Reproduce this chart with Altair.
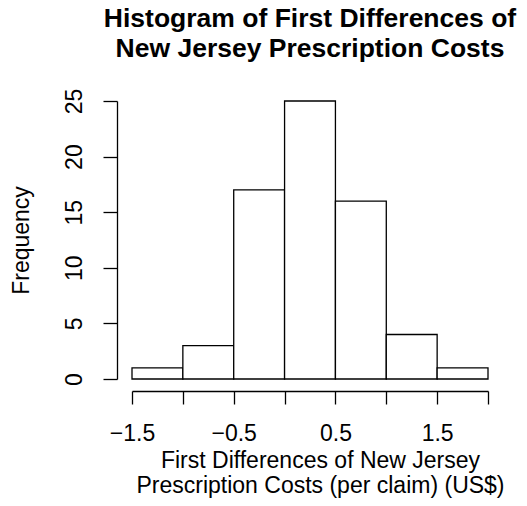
import altair as alt
import pandas as pd

# Histogram bins (break points) and counts
bin_starts = [-1.5, -1.0, -0.5, 0.0, 0.5, 1.0, 1.5]
bin_ends = [-1.0, -0.5, 0.0, 0.5, 1.0, 1.5, 2.0]
counts = [1, 3, 17, 25, 16, 4, 1]

x_ticks = [-1.5, -1.0, -0.5, 0.0, 0.5, 1.0, 1.5, 2.0]
y_ticks = [0, 5, 10, 15, 20, 25]

df = pd.DataFrame({"start": bin_starts, "end": bin_ends, "count": counts})

FONT = "Liberation Sans"

bars = alt.Chart(df).mark_bar(
    fill="white", stroke="black", strokeWidth=1.3
).encode(
    x=alt.X(
        "start:Q",
        scale=alt.Scale(domain=[-1.5, 2.0], nice=False, zero=False),
        axis=alt.Axis(
            values=x_ticks,
            labelExpr="abs(datum.value * 2) % 2 == 1 ? replace(format(datum.value, '.1f'), '-', '\u2212') : ''",
            offset=12,
            grid=False,
            domainColor="black",
            domainWidth=1.3,
            tickColor="black",
            tickWidth=1.3,
            tickSize=13,
            labelFont=FONT,
            labelFontSize=23,
            labelColor="black",
            labelPadding=18,
            labelFlush=False,
            labelOverlap=False,
            title=["First Differences of New Jersey", "Prescription Costs (per claim) (US$)"],
            titleFont=FONT,
            titleFontSize=23,
            titleFontWeight="normal",
            titleColor="black",
            titleLineHeight=25,
            titlePadding=4,
            titleX=188,
            titleAlign="center",
        ),
    ),
    x2="end:Q",
    y=alt.Y(
        "count:Q",
        scale=alt.Scale(domain=[0, 25], nice=False),
        axis=alt.Axis(
            values=y_ticks,
            offset=15,
            grid=False,
            domainColor="black",
            domainWidth=1.3,
            tickColor="black",
            tickWidth=1.3,
            tickSize=14,
            labelAngle=270,
            labelFont=FONT,
            labelFontSize=23,
            labelColor="black",
            labelPadding=17,
            labelFlush=False,
            labelOverlap=False,
            title="Frequency",
            titleFont=FONT,
            titleFontSize=23,
            titleFontWeight="normal",
            titleColor="black",
            titlePadding=30,
        ),
    ),
    y2=alt.datum(0),
)

chart = bars.properties(
    width=356,
    height=278,
    background="white",
    autosize=alt.AutoSizeParams(type="none"),
    padding={"left": 132, "top": 101, "right": 39, "bottom": 127},
    title=alt.TitleParams(
        text=["Histogram of First Differences of", "New Jersey Prescription Costs"],
        font=FONT,
        fontSize=26.5,
        fontWeight="bold",
        color="black",
        lineHeight=30,
        anchor="middle",
        offset=26,
    ),
).configure_view(strokeWidth=0)

chart.save("out.html", embed_options={"renderer": "svg", "actions": False})
